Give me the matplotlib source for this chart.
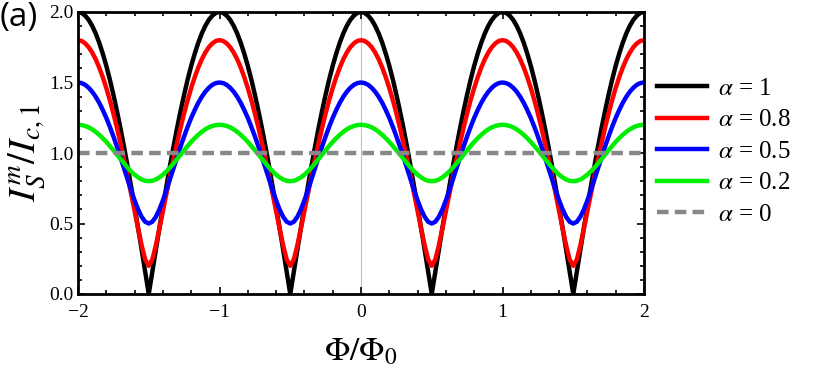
import matplotlib
matplotlib.use("Agg")
import matplotlib.pyplot as plt
from matplotlib.ticker import MultipleLocator

# Flux values (Phi/Phi0), step 0.025 from -2 to 2
phi = [round(-2 + 0.025 * i, 3) for i in range(161)]

# half-period values (distance 0..0.5 from integer flux, step 0.025)
h1 = [2.000, 1.994, 1.975, 1.945, 1.902, 1.848, 1.782, 1.705, 1.618, 1.521, 1.414,
      1.299, 1.176, 1.045, 0.908, 0.765, 0.618, 0.467, 0.313, 0.157, 0.000]
h08 = [1.800, 1.795, 1.778, 1.751, 1.713, 1.665, 1.606, 1.538, 1.461, 1.375, 1.281,
       1.179, 1.070, 0.956, 0.836, 0.713, 0.588, 0.463, 0.344, 0.244, 0.200]
h05 = [1.500, 1.496, 1.484, 1.463, 1.435, 1.399, 1.356, 1.305, 1.249, 1.186, 1.118,
       1.046, 0.970, 0.892, 0.814, 0.737, 0.664, 0.599, 0.547, 0.512, 0.500]
h02 = [1.200, 1.198, 1.192, 1.182, 1.168, 1.150, 1.129, 1.105, 1.079, 1.050, 1.020,
       0.989, 0.957, 0.926, 0.897, 0.870, 0.846, 0.827, 0.812, 0.803, 0.800]
h0 = [1.0] * 21

labels = [r"$\alpha$ = 1", r"$\alpha$ = 0.8", r"$\alpha$ = 0.5", r"$\alpha$ = 0.2", r"$\alpha$ = 0"]
colors = ["black", "#ff0000", "#0000ff", "#00ee00", "#888888"]
styles = ["-", "-", "-", "-", "--"]
xtick_labels = ["\u22122", "\u22121", "0", "1", "2"]
ytick_labels = ["0.0", "0.5", "1.0", "1.5", "2.0"]


def full(h):
    period = h + h[-2:0:-1]
    return period * 4 + [h[0]]


plt.rcParams["mathtext.fontset"] = "stix"
plt.rcParams["font.family"] = ["Liberation Serif", "DejaVu Serif"]

fig = plt.figure(figsize=(8.14, 3.74), dpi=100)
ax = fig.add_axes([78 / 814, 1 - 294 / 374, (644 - 78) / 814, (294 - 12) / 374])

ax.axvline(0, color="#c0c0c0", lw=0.8, zorder=0)
for h, lab, col, ls in zip([h1, h08, h05, h02, h0], labels, colors, styles):
    kw = {"dashes": (2.6, 1.4)} if ls == "--" else {}
    ax.plot(phi, full(h), color=col, lw=3.2, label=lab, solid_joinstyle="round", **kw)

ax.set_xlim(-2, 2)
ax.set_ylim(0, 2)
ax.xaxis.set_minor_locator(MultipleLocator(0.2))
ax.yaxis.set_minor_locator(MultipleLocator(0.1))
ax.set_xticks([-2, -1, 0, 1, 2])
ax.set_xticklabels(xtick_labels)
ax.set_yticks([0, 0.5, 1.0, 1.5, 2.0])
ax.set_yticklabels(ytick_labels)
ax.tick_params(which="both", direction="in", top=True, right=True, width=1.2, labelsize=14)
ax.tick_params(which="major", length=5)
ax.tick_params(which="minor", length=3)
ax.tick_params(axis="x", which="major", pad=7)
ax.tick_params(axis="y", which="major", pad=3)
for s in ax.spines.values():
    s.set_linewidth(2)

ax.set_xlabel(r"$\Phi/\Phi_0$", fontsize=24, labelpad=12)
ax.set_ylabel(r"$I_S^m/I_{c,1}$", fontsize=28, labelpad=2)

ax.legend(loc="center left", bbox_to_anchor=(1.0, 0.505), frameon=False,
          fontsize=18, handlelength=2.0, labelspacing=0.36, handletextpad=0.45,
          borderaxespad=0.3, borderpad=0.2)

fig.text(0.0, 0.997, "(a)", fontsize=24, family=["Open Sans", "DejaVu Sans"], va="top", ha="left")

fig.savefig("out.png", dpi=100)
